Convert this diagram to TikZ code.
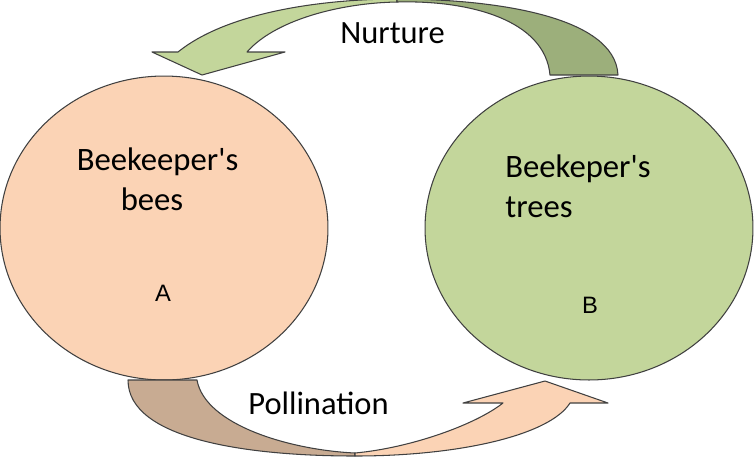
\documentclass[tikz,border=0pt]{standalone}
\usepackage{fontspec}
\setmainfont{Carlito}
\newfontfamily\letterfont{Liberation Sans}
\usetikzlibrary{shapes.geometric}
\definecolor{peach}{HTML}{FBD3B5}
\definecolor{tan}{HTML}{C8AB92}
\definecolor{leafgreen}{HTML}{C3D69B}
\definecolor{mossgreen}{HTML}{9CAF7B}
\definecolor{rim}{HTML}{404040}
\tikzstyle{bubble} = [ellipse, draw=rim, line width=0.6pt, minimum width=6.56cm, minimum height=6.08cm, inner sep=0pt]
\tikzstyle{band} = [draw=rim, line width=0.6pt, line join=round]
\tikzstyle{circletext} = [anchor=base, inner sep=0pt, font=\fontsize{18.6}{22}\selectfont]
\tikzstyle{flowtext} = [anchor=base west, inner sep=0pt, font=\fontsize{18.5}{22}\selectfont]
\tikzstyle{letter} = [anchor=base, inner sep=0pt, font=\letterfont\fontsize{13.5}{16}\selectfont]

\begin{document}
\begin{tikzpicture}[x=0.02cm, y=-0.02cm]
			\useasboundingbox (0,0) rectangle (755,458);

			% the two circles
			\node (bees) [bubble, fill=peach] at (164,228) {};
			\node (trees) [bubble, fill=leafgreen] at (589,228) {};

			% nurture arrow, front and back of the band
			\draw [band, fill=leafgreen] (178,52) .. controls (230,10) and (330,-1) .. (397,-1) -- (397,2) .. controls (340,3) and (275,20) .. (247,52) -- (285,52) -- (202,75) -- (152,52) -- cycle;
			\draw [band, fill=mossgreen] (397,-1) .. controls (490,-1) and (615,15) .. (618,75) -- (550,75) .. controls (545,20) and (470,0) .. (397,2) -- cycle;

			% pollination arrow, back and front of the band
			\draw [band, fill=tan] (128,380) -- (197,380) .. controls (205,425) and (290,450) .. (355,453) -- (355,456) .. controls (250,456) and (128,440) .. (128,380) -- cycle;
			\draw [band, fill=peach] (355,456) .. controls (460,456) and (550,435) .. (570,403) -- (608,403) -- (545,381) -- (463,403) -- (503,403) .. controls (475,425) and (410,448) .. (355,453) -- cycle;

			% texts
			\node (beesone) [circletext] at (157.5,170) {Beekeeper\textquotesingle s};
			\node (beestwo) [circletext] at (152,210) {bees};
			\node (beesletter) [letter] at (163,301) {A};
			\node (treesone) [circletext, anchor=base west] at (505,177) {Beekeper\textquotesingle s};
			\node (treestwo) [circletext, anchor=base west] at (505,217) {trees};
			\node (treesletter) [letter] at (590,313) {B};
			\node (nurture) [flowtext] at (340,43) {Nurture};
			\node (pollination) [flowtext] at (248,414) {Pollination};
		\end{tikzpicture}
\end{document}
